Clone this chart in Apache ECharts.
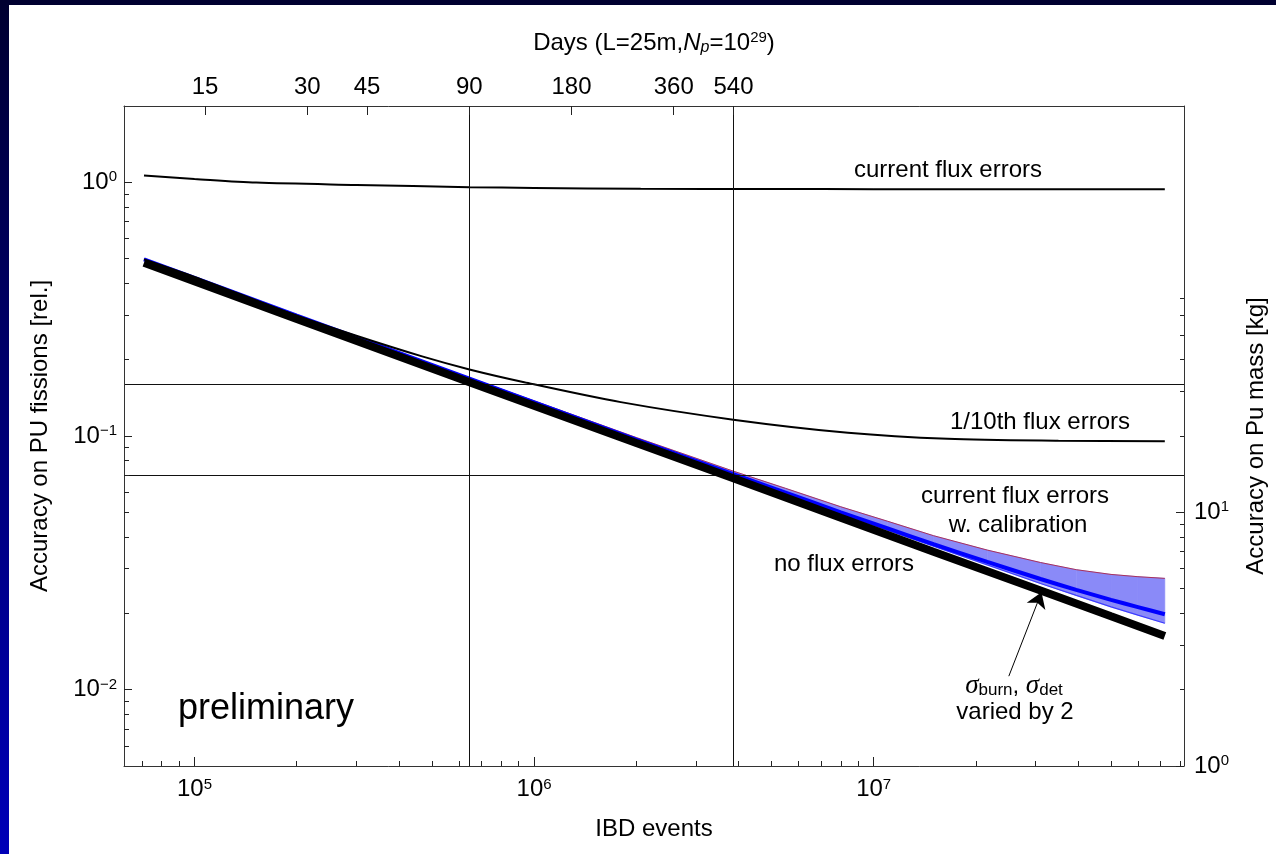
<!DOCTYPE html>
<html>
<head>
<meta charset="utf-8">
<title>Accuracy on Pu fissions vs IBD events</title>
<script src="https://cdn.jsdelivr.net/npm/echarts@6/dist/echarts.min.js"></script>
<style>
  html, body { margin: 0; padding: 0; }
  body {
    width: 1276px; height: 854px; overflow: hidden; position: relative;
    background: linear-gradient(to bottom, #000030 0%, #00006e 45%, #0000b8 100%);
  }
  #chart { position: absolute; left: 9px; top: 5px; width: 1267px; height: 849px; background: #fff; }
</style>
</head>
<body>
<div id="chart"></div>
<script>
const FONT = '"Liberation Sans", Arial, Helvetica, sans-serif'

// axes
const eventsPerDay = 7160          // L=25m, Np=1e29
const eventsRange = [6.2e4, 8.2e7]
const relRange = [0.005, 2]
const kgRange = [1, 400]

const eventTicks = [1e5, 1e6, 1e7]
const eventMinorTicks = [7e4, 8e4, 9e4, 2e5, 3e5, 4e5, 5e5, 6e5, 7e5, 8e5, 9e5,
  2e6, 3e6, 4e6, 5e6, 6e6, 7e6, 8e6, 9e6, 2e7, 3e7, 4e7, 5e7, 6e7, 7e7, 8e7]
const dayTicks = [15, 30, 45, 90, 180, 360, 540]
const relTicks = [0.01, 0.1, 1]
const relMinorTicks = [0.006, 0.007, 0.008, 0.009, 0.02, 0.03, 0.04, 0.05, 0.06, 0.07, 0.08, 0.09,
  0.2, 0.3, 0.4, 0.5, 0.6, 0.7, 0.8, 0.9]
const kgTicks = [1, 10]
const kgMinorTicks = [2, 3, 4, 5, 6, 7, 8, 9, 20, 30, 40, 50, 60, 70]

// curves (x = IBD events, y = relative accuracy)
const noFluxEvents = [7.1e4, 2e5, 6.45e5, 2e6, 3.86e6, 8e6, 1.5e7, 3.1e7, 5e7, 7.2e7]
const noFluxRel = [0.482, 0.289, 0.163, 0.0938, 0.0682, 0.0476, 0.0350, 0.0246, 0.01945, 0.01628]

// calibrated case: central line and band (sigma_burn, sigma_det varied by 2)
const calibEvents = [7.1e4, 2e5, 6.45e5, 2e6, 3.86e6, 5.5e6, 8e6, 1.1e7, 1.5e7, 2.16e7, 3.1e7, 3.95e7, 5e7, 6e7, 7.2e7]
const calibRel = [0.4975, 0.2983, 0.1682, 0.0968, 0.07072, 0.05979, 0.05003, 0.04323, 0.03746,
  0.03190, 0.02730, 0.02474, 0.02259, 0.02115, 0.01982]
const bandLower = [0.4953, 0.2970, 0.1675, 0.0964, 0.07008, 0.05888, 0.04913, 0.04249, 0.03679,
  0.03105, 0.02621, 0.02352, 0.02120, 0.01967, 0.01827]
const bandUpper = [0.4998, 0.2997, 0.1698, 0.0986, 0.07267, 0.06218, 0.05259, 0.04610, 0.04046,
  0.03550, 0.03171, 0.02971, 0.02846, 0.02788, 0.02746]

const tenthEvents = [7.1e4, 1e5, 1.9e5, 2.98e5, 4.68e5, 6.45e5, 9.35e5, 1.8e6, 3.86e6, 8.4e6, 1.65e7, 3.5e7, 7.2e7]
const tenthRel = [0.497, 0.424, 0.3055, 0.249, 0.206, 0.183, 0.163, 0.136, 0.116, 0.103, 0.0975, 0.0958, 0.0953]

const currentEvents = [7.1e4, 1e5, 1.52e5, 3e5, 6.45e5, 1e6, 2.06e6, 5e6, 1e7, 3e7, 7.2e7]
const currentRel = [1.064, 1.032, 0.998, 0.977, 0.957, 0.951, 0.943, 0.941, 0.940, 0.939, 0.939]

// guide lines
const vLineDays = [90, 540]
const hLineRel = [0.164, 0.068]
const arrowFrom = [2.5e7, 0.0113]
const arrowTo = [3.12e7, 0.0242]

const toPoints = (xs, ys) => xs.map((x, i) => [x, ys[i]])

const powRich = {
  b: { fontSize: 24, fontFamily: FONT, color: '#000' },
  sup: { fontSize: 15, fontFamily: FONT, color: '#000', padding: [0, 0, 10, 0] }
}
function powLabel(v) {
  const e = Math.round(Math.log10(v))
  return '{b|10}{sup|' + String(e).replace('-', '\u2212') + '}'
}

const frameColor = '#333'
const bandColor = '#8a8af8'

function tickAxis(base, ticks, length, showLine) {
  return Object.assign({
    z: 8,
    axisLine: { show: showLine, lineStyle: { color: frameColor, width: 1 } },
    axisTick: { show: true, inside: true, length: length, customValues: ticks,
      lineStyle: { color: '#222', width: 1 } },
    axisLabel: { show: false },
    splitLine: { show: false },
    minorTick: { show: false }
  }, base)
}

const chart = echarts.init(document.getElementById('chart'), null, { renderer: 'canvas' })

const option = {
  animation: false,
  backgroundColor: '#fff',
  textStyle: { fontFamily: FONT },
  grid: { left: 115, top: 101, right: 85, bottom: 88 },
  xAxis: [
    tickAxis({
      type: 'log', min: eventsRange[0], max: eventsRange[1], position: 'bottom',
      name: 'IBD events', nameLocation: 'middle', nameGap: 51,
      nameTextStyle: { fontSize: 24, fontFamily: FONT, color: '#000' },
      axisLabel: { show: true, customValues: eventTicks, margin: 11, formatter: powLabel, rich: powRich }
    }, eventTicks, 9, true),
    tickAxis({ type: 'log', min: eventsRange[0], max: eventsRange[1], position: 'bottom' },
      eventMinorTicks, 5, false),
    tickAxis({
      type: 'log', min: eventsRange[0] / eventsPerDay, max: eventsRange[1] / eventsPerDay, position: 'top',
      name: '{n|Days (L=25m,}{i|N}{sub|p}{n|=10}{sup|29}{n|)}',
      nameLocation: 'middle', nameGap: 50,
      nameTextStyle: {
        rich: {
          n: { fontSize: 24, fontFamily: FONT, color: '#000' },
          i: { fontSize: 24, fontFamily: FONT, fontStyle: 'italic', color: '#000' },
          sub: { fontSize: 16, fontFamily: FONT, fontStyle: 'italic', color: '#000', padding: [9, 0, 0, 0] },
          sup: { fontSize: 15, fontFamily: FONT, color: '#000', padding: [0, 0, 11, 0] }
        }
      },
      axisLabel: { show: true, customValues: dayTicks, margin: 7, fontSize: 24, fontFamily: FONT, color: '#000',
        formatter: (v) => String(Math.round(v)) }
    }, dayTicks, 9, true)
  ],
  yAxis: [
    tickAxis({
      type: 'log', min: relRange[0], max: relRange[1], position: 'left',
      name: 'Accuracy on PU fissions [rel.]', nameLocation: 'middle', nameGap: 72,
      nameTextStyle: { fontSize: 24, fontFamily: FONT, color: '#000' },
      axisLabel: { show: true, customValues: relTicks, margin: 7, formatter: powLabel, rich: powRich }
    }, relTicks, 8, true),
    tickAxis({ type: 'log', min: relRange[0], max: relRange[1], position: 'left' },
      relMinorTicks, 5, false),
    tickAxis({
      type: 'log', min: kgRange[0], max: kgRange[1], position: 'right',
      name: 'Accuracy on Pu mass [kg]', nameLocation: 'middle', nameGap: 60,
      nameTextStyle: { fontSize: 24, fontFamily: FONT, color: '#000' },
      axisLabel: { show: true, customValues: kgTicks, margin: 10, formatter: powLabel, rich: powRich }
    }, kgTicks, 8, true),
    tickAxis({ type: 'log', min: kgRange[0], max: kgRange[1], position: 'right' },
      kgMinorTicks, 4, false)
  ],
  series: [
    {
      name: 'guides', type: 'line', xAxisIndex: 2, yAxisIndex: 0, data: [], z: 1,
      markLine: {
        silent: true, symbol: 'none', label: { show: false },
        lineStyle: { color: '#111', width: 1, type: 'solid' },
        data: vLineDays.map(d => ({ xAxis: d })).concat(hLineRel.map(v => ({ yAxis: v })))
      }
    },
    {
      // filled band between lower and upper, one quad per segment
      name: 'band', type: 'custom', z: 2,
      data: calibEvents.slice(0, -1).map((x, i) =>
        [x, bandLower[i], bandUpper[i], calibEvents[i + 1], bandLower[i + 1], bandUpper[i + 1]]),
      encode: { x: [0, 3], y: [1, 2, 4, 5] },
      renderItem(params, api) {
        const pts = [
          api.coord([api.value(0), api.value(1)]),
          api.coord([api.value(3), api.value(4)]),
          api.coord([api.value(3), api.value(5)]),
          api.coord([api.value(0), api.value(2)])
        ]
        return {
          type: 'polygon', shape: { points: pts },
          style: { fill: bandColor, stroke: bandColor, lineWidth: 0.6 }
        }
      }
    },
    {
      name: 'band lower', type: 'line', z: 3,
      data: toPoints(calibEvents, bandLower),
      symbol: 'none', lineStyle: { color: '#3c3cff', width: 1.2 }
    },
    {
      name: 'band upper', type: 'line', z: 3,
      data: toPoints(calibEvents, bandUpper),
      symbol: 'none', lineStyle: { color: '#a8305c', width: 1 }
    },
    {
      name: 'current flux errors w. calibration', type: 'line', z: 3,
      data: toPoints(calibEvents, calibRel),
      symbol: 'none', smooth: 0.2,
      lineStyle: { color: '#0000ff', width: 4 }
    },
    {
      name: '1/10th flux errors', type: 'line', z: 4,
      data: toPoints(tenthEvents, tenthRel),
      symbol: 'none', smooth: 0.3,
      lineStyle: { color: '#000', width: 2 }
    },
    {
      name: 'current flux errors', type: 'line', z: 4,
      data: toPoints(currentEvents, currentRel),
      symbol: 'none', smooth: 0.3,
      lineStyle: { color: '#000', width: 2 }
    },
    {
      name: 'no flux errors', type: 'line', z: 5,
      data: toPoints(noFluxEvents, noFluxRel),
      symbol: 'none',
      lineStyle: { color: '#000', width: 8 }
    },
    {
      name: 'arrow', type: 'line', data: [], z: 6,
      markLine: {
        silent: true, symbol: ['none', 'arrow'], symbolSize: 15, label: { show: false },
        lineStyle: { color: '#000', width: 1, type: 'solid' },
        data: [[{ coord: arrowFrom }, { coord: arrowTo }]]
      }
    }
  ],
  graphic: [
    { type: 'text', z: 10, style: { text: 'current flux errors', x: 939, y: 165, font: '24px ' + FONT, fill: '#000', align: 'center', verticalAlign: 'middle' } },
    { type: 'text', z: 10, style: { text: '1/10th flux errors', x: 1031, y: 417, font: '24px ' + FONT, fill: '#000', align: 'center', verticalAlign: 'middle' } },
    { type: 'text', z: 10, style: { text: 'current flux errors', x: 1006, y: 491, font: '24px ' + FONT, fill: '#000', align: 'center', verticalAlign: 'middle' } },
    { type: 'text', z: 10, style: { text: 'w. calibration', x: 1009, y: 520, font: '24px ' + FONT, fill: '#000', align: 'center', verticalAlign: 'middle' } },
    { type: 'text', z: 10, style: { text: 'no flux errors', x: 835, y: 559, font: '24px ' + FONT, fill: '#000', align: 'center', verticalAlign: 'middle' } },
    { type: 'text', z: 10, style: { text: 'varied by 2', x: 1006, y: 707, font: '24px ' + FONT, fill: '#000', align: 'center', verticalAlign: 'middle' } },
    {
      type: 'text', z: 10,
      style: {
        text: '{s|\u03c3}{sub|burn}{n|, }{s|\u03c3}{sub|det}', x: 1005, y: 681,
        align: 'center', verticalAlign: 'middle', fill: '#000',
        rich: {
          s: { fontSize: 27, fontFamily: '"Liberation Serif", "DejaVu Serif", serif', fontStyle: 'italic', fill: '#000' },
          sub: { fontSize: 17, fontFamily: FONT, fill: '#000', padding: [9, 0, 0, 0] },
          n: { fontSize: 24, fontFamily: FONT, fill: '#000' }
        }
      }
    },
    { type: 'text', z: 10, style: { text: 'preliminary', x: 169, y: 704, font: '36px ' + FONT, fill: '#000', align: 'left', verticalAlign: 'middle' } }
  ]
}

chart.setOption(option)
</script>
</body>
</html>
